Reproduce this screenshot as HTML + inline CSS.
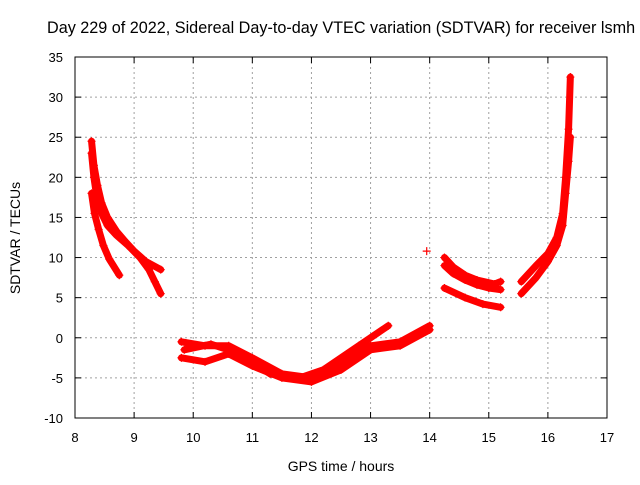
<!DOCTYPE html>
<html><head><meta charset="utf-8"><style>
body{margin:0;background:#fff;}
svg text{font-family:"Liberation Sans",sans-serif;}
</style></head><body>
<svg id="chart" width="640" height="480" xmlns="http://www.w3.org/2000/svg">
<rect width="640" height="480" fill="#fff"/>
<text x="47" y="33" font-size="16.2" text-anchor="start">Day 229 of 2022, Sidereal Day-to-day VTEC variation (SDTVAR) for receiver lsmh</text>
<g id="grid"></g>
<g id="series"></g>
<rect x="75" y="57" width="532" height="361" fill="none" stroke="#000" stroke-width="1"/>
<g id="axes"></g>
<text x="341" y="471" font-size="14" text-anchor="middle">GPS time / hours</text>
<text transform="translate(20,238) rotate(-90)" font-size="14" text-anchor="middle">SDTVAR / TECUs</text>
</svg>
<script>
const xTicks=[8,9,10,11,12,13,14,15,16,17];
const yTicks=[-10,-5,0,5,10,15,20,25,30,35];
const trackA=[[8.28,24.5],[8.32,21.5],[8.38,19],[8.45,16.8],[8.55,15],[8.7,13.3],[8.85,12],[9.0,10.8],[9.2,9.5],[9.45,8.5]];
const trackB=[[8.28,23],[8.32,20],[8.37,17.5],[8.45,15.5],[8.55,14],[8.7,12.8],[8.9,11.5],[9.1,10],[9.25,8.5],[9.35,7],[9.45,5.5]];
const trackC=[[8.28,18],[8.33,15.5],[8.4,13.5],[8.48,11.5],[8.58,9.8],[8.75,7.8]];
const trackD=[[9.8,-0.5],[10.2,-1],[10.6,-1],[11,-2.5],[11.5,-4.5],[12,-5],[12.5,-3.5],[13,-1],[13.5,-0.5],[14,1.5]];
const trackE=[[9.8,-2.5],[10.2,-3],[10.6,-2],[11,-3.5],[11.5,-5],[12,-5.5],[12.5,-4],[13,-1.5],[13.5,-1],[14,1]];
const trackF=[[9.85,-1.5],[10.3,-0.8],[10.8,-2],[11.3,-4.5],[11.8,-5],[12.2,-4],[12.8,-1],[13.3,1.5]];
const trackG=[[14.25,10],[14.4,8.8],[14.6,7.8],[14.8,7.2],[15.1,6.7],[15.2,7]];
const trackH=[[14.25,9],[14.4,8],[14.6,7.2],[14.8,6.6],[15.0,6.2],[15.2,6]];
const trackI=[[14.25,6.2],[14.6,5],[14.9,4.2],[15.2,3.8]];
const trackJ=[[15.55,5.5],[15.8,7.5],[16.0,9.5],[16.15,11.5],[16.25,14],[16.3,18],[16.35,22],[16.38,25]];
const trackK=[[15.55,7],[15.8,9],[16.0,10.5],[16.15,12.5],[16.25,15.5],[16.3,20],[16.35,26],[16.38,32.5]];
const isolated=[[13.95,10.8]];
const tracks=[trackA,trackB,trackC,trackD,trackE,trackF,trackG,trackH,trackI,trackJ,trackK];
const NS="http://www.w3.org/2000/svg";
const X=v=>75+(v-8)*532/9, Y=v=>418-(v+10)*361/45;
const grid=document.getElementById('grid'),axes=document.getElementById('axes'),ser=document.getElementById('series');
function mk(tag,attrs,parent){const e=document.createElementNS(NS,tag);for(const k in attrs)e.setAttribute(k,attrs[k]);parent.appendChild(e);return e;}
xTicks.forEach(t=>{const x=X(t);
 if(t>8&&t<17){const g=mk('line',{x1:x,x2:x,y1:57,y2:418,stroke:'#a0a0a0','stroke-dasharray':'2,3'},grid);}
 const l=mk('line',{x1:x,x2:x,y1:418,y2:412,stroke:'#000'},axes);
 const l2=mk('line',{x1:x,x2:x,y1:57,y2:63,stroke:'#000'},axes);
 const tx=mk('text',{x:x,y:442,'font-size':13,'text-anchor':'middle'},axes);tx.textContent=t;});
yTicks.forEach(t=>{const y=Y(t);
 if(t>-10&&t<35){const g=mk('line',{x1:75,x2:607,y1:y,y2:y,stroke:'#a0a0a0','stroke-dasharray':'2,3'},grid);}
 const l=mk('line',{x1:75,x2:81,y1:y,y2:y,stroke:'#000'},axes);
 const l2=mk('line',{x1:601,x2:607,y1:y,y2:y,stroke:'#000'},axes);
 const tx=mk('text',{x:63,y:y+5,'font-size':13,'text-anchor':'end'},axes);tx.textContent=t;});
function plus(v,color){const x=X(v[0]),y=Y(v[1]);const p=mk('path',{d:`M${x-4},${y}H${x+4}M${x},${y-4}V${y+4}`,stroke:color,'stroke-width':1.2},ser);}
tracks.forEach(tr=>{const p=mk('path',{d:tr.map((v,i)=>(i?'L':'M')+X(v[0])+','+Y(v[1])).join(''),fill:'none',stroke:'#ff0000','stroke-width':7,'stroke-linejoin':'round','stroke-linecap':'round'},ser);tr.forEach(v=>plus(v,'#ff0000'));});
isolated.forEach(v=>plus(v,'#ff0000'));
</script>
</body></html>
